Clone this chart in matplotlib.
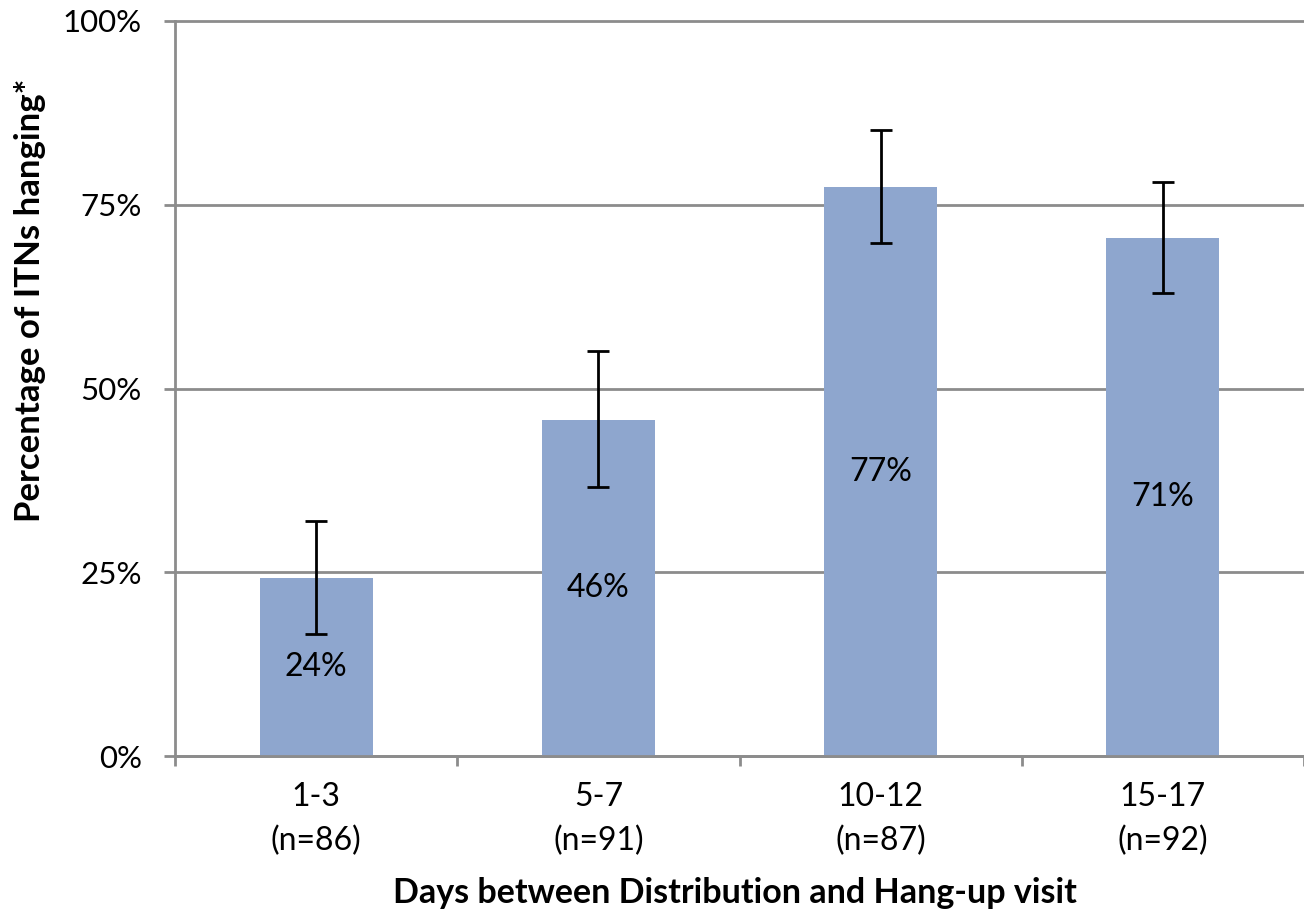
import matplotlib
matplotlib.use("Agg")
import matplotlib.pyplot as plt
from matplotlib.ticker import FixedLocator, PercentFormatter

plt.rcParams['font.family'] = ['Lato', 'DejaVu Sans']

categories = ["1-3\n(n=86)", "5-7\n(n=91)", "10-12\n(n=87)", "15-17\n(n=92)"]
values = [24.2, 45.7, 77.4, 70.5]
err_low = [16.6, 36.6, 69.8, 63.0]
err_high = [32.0, 55.1, 85.2, 78.1]
bar_labels = ["24%", "46%", "77%", "71%"]

bar_color = "#8EA6CE"
grid_color = "#8C8C8C"

fig = plt.figure(figsize=(13.04, 9.16), dpi=100)
ax = fig.add_axes([175/1304, 1-756/916, 1-175/1304, (756-21)/916])

x = list(range(len(categories)))
yerr = [[v - l for v, l in zip(values, err_low)], [h - v for v, h in zip(values, err_high)]]
bars = ax.bar(x, values, width=0.4, color=bar_color, zorder=2)
ax.errorbar(x, values, yerr=yerr, fmt='none', ecolor='black', elinewidth=2,
            capsize=8, capthick=2, zorder=3)
ax.bar_label(bars, labels=bar_labels, label_type='center', fontsize=23, color='black')

ax.set_xlim(-0.5, (1304-317)/287)
ax.set_ylim(0, 100)
ax.yaxis.set_major_locator(FixedLocator([0, 25, 50, 75, 100]))
ax.yaxis.set_major_formatter(PercentFormatter(decimals=0))
ax.grid(axis='y', color=grid_color, linewidth=2, zorder=0)
for gl in ax.get_ygridlines():
    gl.set_clip_on(False)

ax.set_xticks(x)
ax.set_xticklabels(categories, fontsize=23, linespacing=1.55)
ax.tick_params(axis='x', which='major', length=0, pad=19)
ax.set_xticks([-0.5, 0.5, 1.5, 2.5, 3.5], minor=True)
ax.tick_params(axis='x', which='minor', length=7, width=2, color=grid_color)
ax.tick_params(axis='y', which='major', length=8, width=2, color=grid_color, labelsize=22.5, pad=16)

for s in ['top', 'right']:
    ax.spines[s].set_visible(False)
for s in ['left', 'bottom']:
    ax.spines[s].set_color(grid_color)
    ax.spines[s].set_linewidth(2)

fig.text(735/1304, 1-893/916, "Days between Distribution and Hang-up visit",
         fontsize=24.5, fontweight='bold', ha='center', va='center')
fig.text(30/1304, 1-300/916, "Percentage of ITNs hanging*", rotation=90,
         fontsize=25, fontweight='bold', ha='center', va='center')

fig.savefig("out.png", dpi=100)
